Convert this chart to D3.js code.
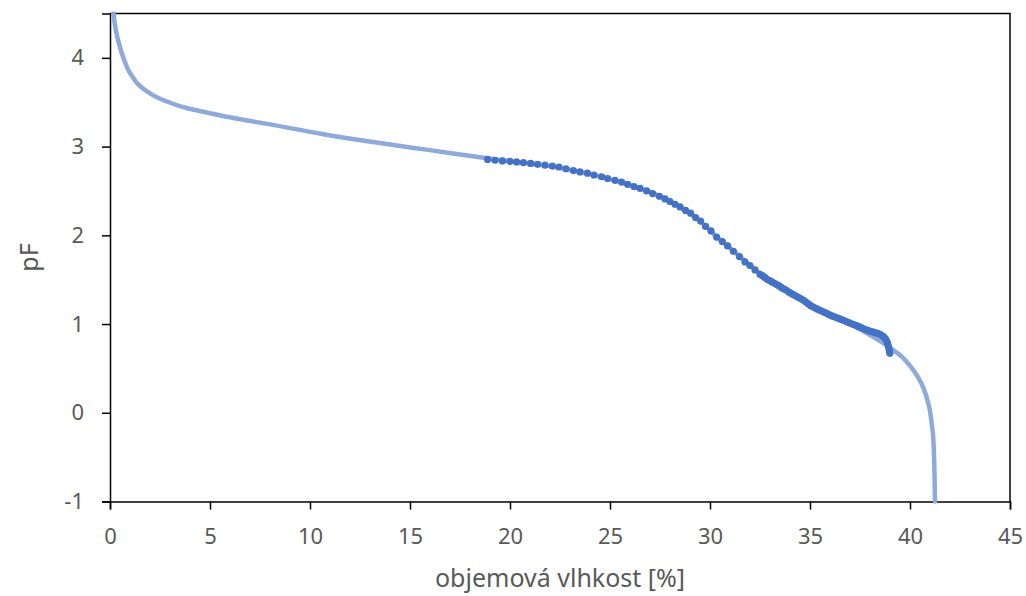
<!DOCTYPE html>
<html>
<head>
<meta charset="utf-8">
<script src="https://cdn.jsdelivr.net/npm/d3@7"></script>
<style>
  body { margin: 0; background: #fff; }
  text { font-family: "Noto Sans", "Open Sans", sans-serif; fill: #595959; }
</style>
</head>
<body>
<div id="chart"></div>
<script>
// measured curve (light line)
var curveX = [0.17, 0.25, 0.33, 0.45, 0.58, 0.75, 0.92, 1.15, 1.33, 1.65, 2.0, 2.4, 2.83, 3.3, 3.83, 4.83,
  6.0, 8.0, 10.67, 13.33, 16.0, 18.67, 20.0, 22.0, 24.0, 26.0, 27.5, 28.5, 29.5, 30.3, 31.2, 32.0, 33.0,
  34.0, 35.0, 36.0, 37.0, 37.6, 38.2, 38.7, 39.2, 39.6, 40.0, 40.35, 40.67, 40.9, 41.0, 41.1, 41.17, 41.21, 41.23, 41.25];
var curvePF = [4.5, 4.37, 4.27, 4.16, 4.06, 3.95, 3.86, 3.78, 3.72, 3.655, 3.60, 3.55, 3.51, 3.47, 3.435, 3.385,
  3.33, 3.25, 3.14, 3.045, 2.96, 2.875, 2.835, 2.78, 2.69, 2.565, 2.44, 2.32, 2.16, 1.99, 1.82, 1.66, 1.49,
  1.35, 1.21, 1.10, 1.0, 0.93, 0.85, 0.78, 0.70, 0.63, 0.53, 0.42, 0.28, 0.12, 0.02, -0.15, -0.31, -0.55, -0.75, -1.0];

// measured points (dark dots)
var dotX = [18.88, 19.25, 19.62, 20.0, 20.33, 20.67, 21.03, 21.38, 21.75, 22.12, 22.45, 22.8, 23.17, 23.5, 23.87,
  24.2, 24.58, 24.88, 25.25, 25.58, 25.88, 26.2, 26.5, 26.83, 27.13, 27.47, 27.75, 28.0, 28.25, 28.5, 28.78,
  29.03, 29.28, 29.53, 29.78, 30.05, 30.33, 30.62, 30.88, 31.17, 31.47, 31.75, 32.0, 32.25,
  32.5, 32.62, 32.74, 32.86, 32.98, 33.1, 33.22, 33.34, 33.46, 33.58, 33.7, 33.82, 33.94, 34.06, 34.18,
  34.3, 34.42, 34.54, 34.66, 34.78, 34.9, 35.02, 35.14, 35.26, 35.38, 35.5, 35.62, 35.74, 35.86, 35.98,
  36.1, 36.22, 36.34, 36.46, 36.58, 36.7, 36.82, 36.94, 37.06, 37.18, 37.3, 37.42, 37.54, 37.66, 37.78,
  37.9, 38.02, 38.14, 38.26, 38.38, 38.5, 38.6, 38.7, 38.78, 38.84, 38.88, 38.92, 38.95, 38.97, 38.99];
var dotPF = [2.855, 2.846, 2.838, 2.834, 2.827, 2.82, 2.81, 2.8, 2.79, 2.78, 2.77, 2.75, 2.73, 2.715, 2.7,
  2.68, 2.66, 2.64, 2.62, 2.6, 2.575, 2.55, 2.53, 2.5, 2.47, 2.44, 2.41, 2.38, 2.35, 2.32, 2.28,
  2.25, 2.2, 2.16, 2.1, 2.05, 1.98, 1.93, 1.88, 1.82, 1.76, 1.7, 1.66, 1.61,
  1.56, 1.545, 1.525, 1.505, 1.49, 1.475, 1.46, 1.445, 1.43, 1.41, 1.395, 1.38, 1.36, 1.345, 1.33,
  1.315, 1.3, 1.285, 1.27, 1.25, 1.23, 1.21, 1.195, 1.18, 1.168, 1.155, 1.143, 1.13, 1.117, 1.103,
  1.092, 1.082, 1.071, 1.06, 1.05, 1.04, 1.028, 1.017, 1.005, 0.995, 0.985, 0.973, 0.962, 0.95, 0.938,
  0.928, 0.919, 0.911, 0.903, 0.894, 0.883, 0.87, 0.853, 0.83, 0.805, 0.78, 0.75, 0.72, 0.695, 0.67];

var xTicks = [0, 5, 10, 15, 20, 25, 30, 35, 40, 45];
var yTicks = [-1, 0, 1, 2, 3, 4];

var svgWidth = 1026;
var svgHeight = 596;
var margin = { top: 13.5, right: 16, bottom: 94.5, left: 110 };
var width = svgWidth - margin.left - margin.right;
var height = svgHeight - margin.top - margin.bottom;

var svg = d3.select("#chart").append("svg")
    .attr("width", svgWidth)
    .attr("height", svgHeight);

var chartGroup = svg.append("g")
    .attr("transform", `translate(${margin.left}, ${margin.top})`);

var xScale = d3.scaleLinear().domain([0, 45]).range([0, width]);
var yScale = d3.scaleLinear().domain([-1, 4.5]).range([height, 0]);

// frame (top & right)
chartGroup.append("path")
    .attr("d", `M0,0H${width}V${height}`)
    .attr("fill", "none")
    .attr("stroke", "#000")
    .attr("stroke-width", 1.5);

// axes
var bottomAxis = d3.axisBottom(xScale).tickValues(xTicks).tickSize(8).tickPadding(19)
    .tickFormat(d => String(d));
var leftAxis = d3.axisLeft(yScale).tickValues(yTicks).tickSize(8).tickPadding(18)
    .tickFormat(d => String(d));

var xAxis = chartGroup.append("g")
    .attr("transform", `translate(0, ${height})`)
    .call(bottomAxis);
var yAxis = chartGroup.append("g").call(leftAxis);

[xAxis, yAxis].forEach(function(ax) {
    ax.select(".domain").attr("stroke", "#000").attr("stroke-width", 1.5);
    ax.selectAll(".tick line").attr("stroke", "#000").attr("stroke-width", 1.5);
    ax.selectAll(".tick text")
        .attr("fill", "#595959")
        .style("font-size", "22px")
        .style("font-family", "'Noto Sans', sans-serif");
});

// light curve
var curveData = curveX.map((x, i) => ({ x: x, y: curvePF[i] }));
var line = d3.line()
    .x(d => xScale(d.x))
    .y(d => yScale(d.y))
    .curve(d3.curveMonotoneX);

chartGroup.append("path")
    .datum(curveData)
    .attr("d", line)
    .attr("fill", "none")
    .attr("stroke", "#8eaadb")
    .attr("stroke-width", 4.5)
    .attr("stroke-linecap", "round");

// dots
var dotData = dotX.map((x, i) => ({ x: x, y: dotPF[i] }));
chartGroup.selectAll("circle")
    .data(dotData)
    .enter()
    .append("circle")
    .attr("cx", d => xScale(d.x))
    .attr("cy", d => yScale(d.y))
    .attr("r", 3.6)
    .attr("fill", "#4472c4");

// axis titles
svg.append("text")
    .attr("x", margin.left + width / 2)
    .attr("y", 587)
    .attr("text-anchor", "middle")
    .style("font-size", "25px")
    .text("objemová vlhkost [%]");

svg.append("text")
    .attr("transform", `translate(38, ${margin.top + height / 2}) rotate(-90)`)
    .attr("text-anchor", "middle")
    .style("font-size", "25px")
    .text("pF");
</script>
</body>
</html>
